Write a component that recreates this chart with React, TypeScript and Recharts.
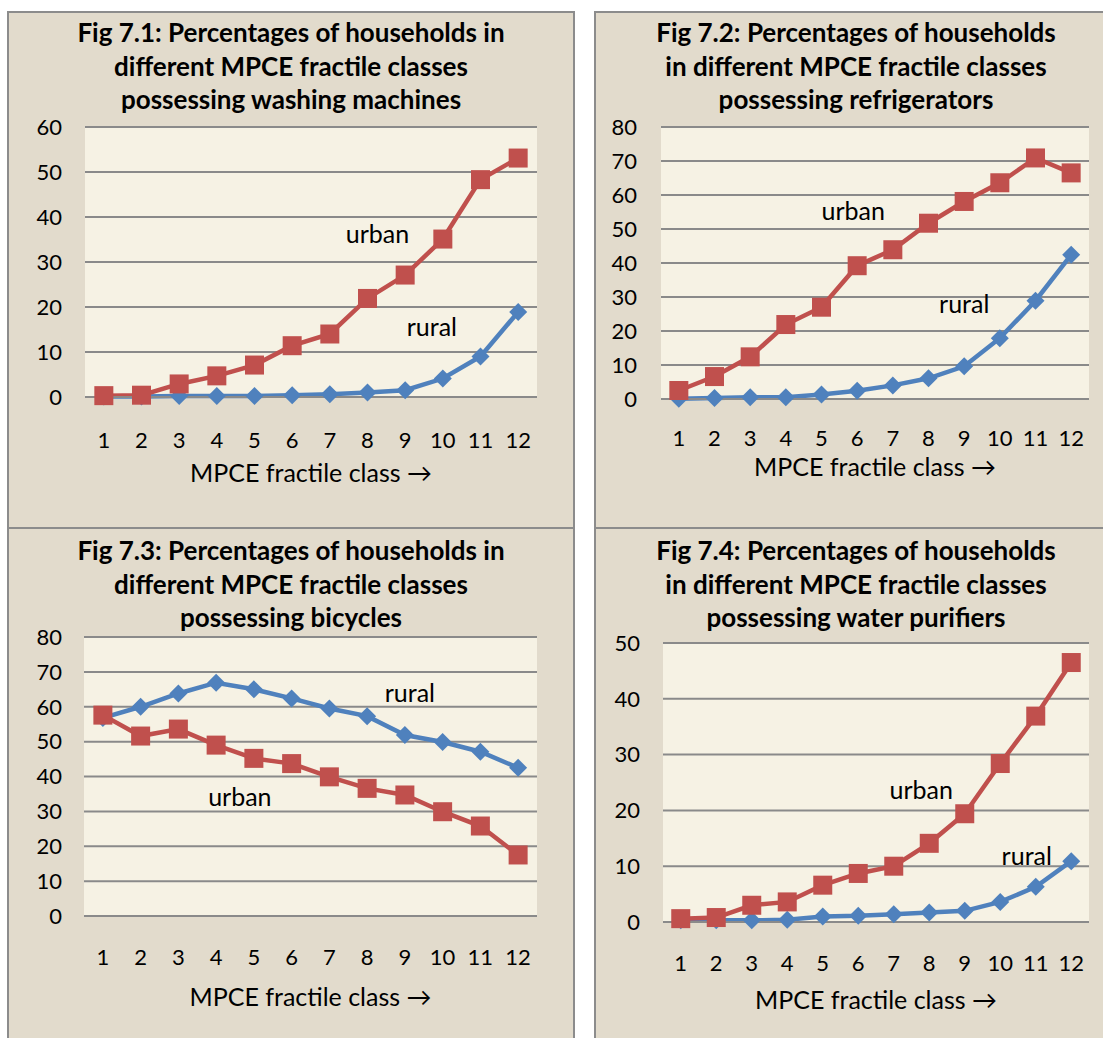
import React from 'react';
import { LineChart, Line, XAxis, YAxis, CartesianGrid, ReferenceDot } from 'recharts';

// MPCE fractile classes (x categories)
const classes = ['1', '2', '3', '4', '5', '6', '7', '8', '9', '10', '11', '12'];

// Fig 7.1 washing machines
const washingUrban = [0.3, 0.4, 2.9, 4.7, 7.1, 11.4, 14.0, 21.9, 27.1, 35.1, 48.3, 53.1];
const washingRural = [0.1, 0.1, 0.2, 0.2, 0.2, 0.4, 0.6, 1.0, 1.5, 4.1, 9.0, 18.9];

// Fig 7.2 refrigerators
const fridgeUrban = [2.5, 6.6, 12.4, 21.9, 27.0, 39.2, 43.9, 51.7, 58.1, 63.6, 70.9, 66.5];
const fridgeRural = [0.1, 0.3, 0.5, 0.5, 1.3, 2.4, 4.0, 6.1, 9.6, 17.9, 28.9, 42.4];

// Fig 7.3 bicycles
const bicycleUrban = [57.6, 51.6, 53.6, 49.0, 45.2, 43.7, 39.9, 36.6, 34.7, 29.9, 25.8, 17.5];
const bicycleRural = [56.8, 60.0, 63.8, 66.9, 65.0, 62.4, 59.5, 57.3, 51.9, 49.9, 47.1, 42.5];

// Fig 7.4 water purifiers
const purifierUrban = [0.6, 0.8, 3.0, 3.6, 6.6, 8.7, 10.0, 14.1, 19.4, 28.4, 36.9, 46.5];
const purifierRural = [0.3, 0.3, 0.3, 0.4, 1.0, 1.1, 1.4, 1.7, 2.0, 3.6, 6.3, 10.9];

// y-axis tick labels
const ticks60 = [0, 10, 20, 30, 40, 50, 60];
const ticks80 = [0, 10, 20, 30, 40, 50, 60, 70, 80];
const ticks50 = [0, 10, 20, 30, 40, 50];

const axisTitle = 'MPCE fractile class \u2192';

const FONT = "Lato, 'Open Sans', sans-serif";
const RED = '#c0504d';
const BLUE = '#4f81bd';
const GRID = '#8a8a8a';

type Note = { text: string; cls: string; value: number; dx: number };

type Fig = {
  title: string[];
  titleX: number;
  titleY: number;
  urban: number[];
  rural: number[];
  ticks: number[];
  plot: { l: number; r: number; t: number; b: number };
  yGap: number;
  xGap: number;
  axisBase: number;
  notes: Note[];
};

const figs: Fig[] = [
  {
    title: ['Fig 7.1: Percentages of households in', 'different MPCE fractile classes', 'possessing washing machines'],
    titleX: 291,
    titleY: 33,
    urban: washingUrban,
    rural: washingRural,
    ticks: ticks60,
    plot: { l: 85, r: 537, t: 127, b: 397 },
    yGap: 23,
    xGap: 35,
    axisBase: 482,
    notes: [
      { text: 'urban', cls: '8', value: 36.4, dx: 10 },
      { text: 'rural', cls: '10', value: 15.8, dx: -11 },
    ],
  },
  {
    title: ['Fig 7.2: Percentages of households', 'in different MPCE fractile classes', 'possessing refrigerators'],
    titleX: 856,
    titleY: 33,
    urban: fridgeUrban,
    rural: fridgeRural,
    ticks: ticks80,
    plot: { l: 661, r: 1089, t: 127, b: 399 },
    yGap: 24,
    xGap: 31,
    axisBase: 476,
    notes: [
      { text: 'urban', cls: '6', value: 55.7, dx: -4 },
      { text: 'rural', cls: '9', value: 28.2, dx: 0 },
    ],
  },
  {
    title: ['Fig 7.3: Percentages of households in', 'different MPCE fractile classes', 'possessing bicycles'],
    titleX: 291,
    titleY: 551,
    urban: bicycleUrban,
    rural: bicycleRural,
    ticks: ticks80,
    plot: { l: 84, r: 537, t: 637, b: 916 },
    yGap: 22,
    xGap: 33,
    axisBase: 1006,
    notes: [
      { text: 'urban', cls: '5', value: 34.5, dx: -14 },
      { text: 'rural', cls: '9', value: 64.3, dx: 5 },
    ],
  },
  {
    title: ['Fig 7.4: Percentages of households', 'in different MPCE fractile classes', 'possessing water purifiers'],
    titleX: 856,
    titleY: 551,
    urban: purifierUrban,
    rural: purifierRural,
    ticks: ticks50,
    plot: { l: 663, r: 1089, t: 643, b: 922 },
    yGap: 23,
    xGap: 33,
    axisBase: 1009,
    notes: [
      { text: 'urban', cls: '8', value: 23.9, dx: -8 },
      { text: 'rural', cls: '11', value: 12.0, dx: -9 },
    ],
  },
];

const Square = (props: any) => {
  const { cx, cy, index } = props;
  if (cx == null || cy == null) return <g key={`s-${index}`} />;
  return <rect key={`s-${index}`} x={cx - 9.5} y={cy - 9.5} width={19} height={19} fill={RED} />;
};

const Diamond = (props: any) => {
  const { cx, cy, index } = props;
  if (cx == null || cy == null) return <g key={`d-${index}`} />;
  const h = 9;
  return (
    <polygon
      key={`d-${index}`}
      points={`${cx},${cy - h} ${cx + h},${cy} ${cx},${cy + h} ${cx - h},${cy}`}
      fill={BLUE}
    />
  );
};

function FigChart({ fig }: { fig: Fig }) {
  const { plot } = fig;
  const yw = 80;
  const mt = 24;
  const left = plot.l - yw;
  const top = plot.t - mt;
  const width = plot.r + 10 - left;
  const xh = fig.axisBase - plot.b;
  const height = plot.b - top + xh + 12;
  const band = (plot.r - plot.l) / classes.length;
  const data = classes.map((c, i) => ({ cls: c, urban: fig.urban[i], rural: fig.rural[i] }));
  const max = fig.ticks[fig.ticks.length - 1];

  return (
    <div style={{ position: 'absolute', left, top }}>
      <LineChart width={width} height={height} data={data} margin={{ top: mt, right: 10, bottom: 12, left: 0 }}>
        <CartesianGrid vertical={false} stroke={GRID} strokeWidth={2} fill="#f6f2e4" />
        <XAxis
          dataKey="cls"
          interval={0}
          tickLine={false}
          tickSize={0}
          tickMargin={fig.xGap}
          axisLine={{ stroke: GRID, strokeWidth: 2 }}
          padding={{ left: band / 2, right: band / 2 }}
          height={xh}
          tick={{ fill: '#000', fontSize: 22, fontFamily: FONT }}
          label={{ value: axisTitle, position: 'insideBottom', offset: 0, fill: '#000', fontSize: 25, fontFamily: FONT }}
        />
        <YAxis
          type="number"
          domain={[0, max]}
          ticks={fig.ticks}
          interval={0}
          width={yw}
          axisLine={false}
          tickLine={false}
          tickSize={0}
          tickMargin={fig.yGap}
          tick={{ fill: '#000', fontSize: 22, fontFamily: FONT }}
        />
        <Line
          dataKey="rural"
          stroke={BLUE}
          strokeWidth={4.5}
          dot={Diamond}
          activeDot={false}
          isAnimationActive={false}
        />
        <Line
          dataKey="urban"
          stroke={RED}
          strokeWidth={4.5}
          dot={Square}
          activeDot={false}
          isAnimationActive={false}
        />
        {fig.notes.map((n) => (
          <ReferenceDot
            key={n.text}
            x={n.cls}
            y={n.value}
            r={0}
            ifOverflow="visible"
            shape={(p: any) => (
              <text
                x={p.cx + n.dx}
                y={p.cy}
                textAnchor="middle"
                dominantBaseline="central"
                fontSize={25}
                fontFamily={FONT}
                fill="#000"
              >
                {n.text}
              </text>
            )}
          />
        ))}
      </LineChart>
    </div>
  );
}

const panelStyle = (left: number, top: number, width: number, height: number): React.CSSProperties => ({
  position: 'absolute',
  left,
  top,
  width,
  height,
  boxSizing: 'border-box',
  border: '2px solid #8c8c8c',
  background: '#e2dbcc',
});

export default function App() {
  return (
    <div
      style={{
        position: 'absolute',
        left: 0,
        top: 0,
        width: 1103,
        height: 1038,
        background: '#fff',
        overflow: 'hidden',
        fontFamily: FONT,
      }}
    >
      <div style={panelStyle(7, 11, 568, 518)} />
      <div style={panelStyle(594, 11, 600, 518)} />
      <div style={panelStyle(7, 527, 568, 600)} />
      <div style={panelStyle(594, 527, 600, 600)} />
      {figs.map((f, i) => (
        <div
          key={`t-${i}`}
          style={{
            position: 'absolute',
            left: f.titleX - 300,
            top: f.titleY - 16.75,
            width: 600,
            textAlign: 'center',
            fontWeight: 700,
            fontSize: 26,
            lineHeight: '33.5px',
            color: '#000',
          }}
        >
          {f.title.map((line) => (
            <div key={line}>{line}</div>
          ))}
        </div>
      ))}
      {figs.map((f, i) => (
        <FigChart key={`c-${i}`} fig={f} />
      ))}
    </div>
  );
}
